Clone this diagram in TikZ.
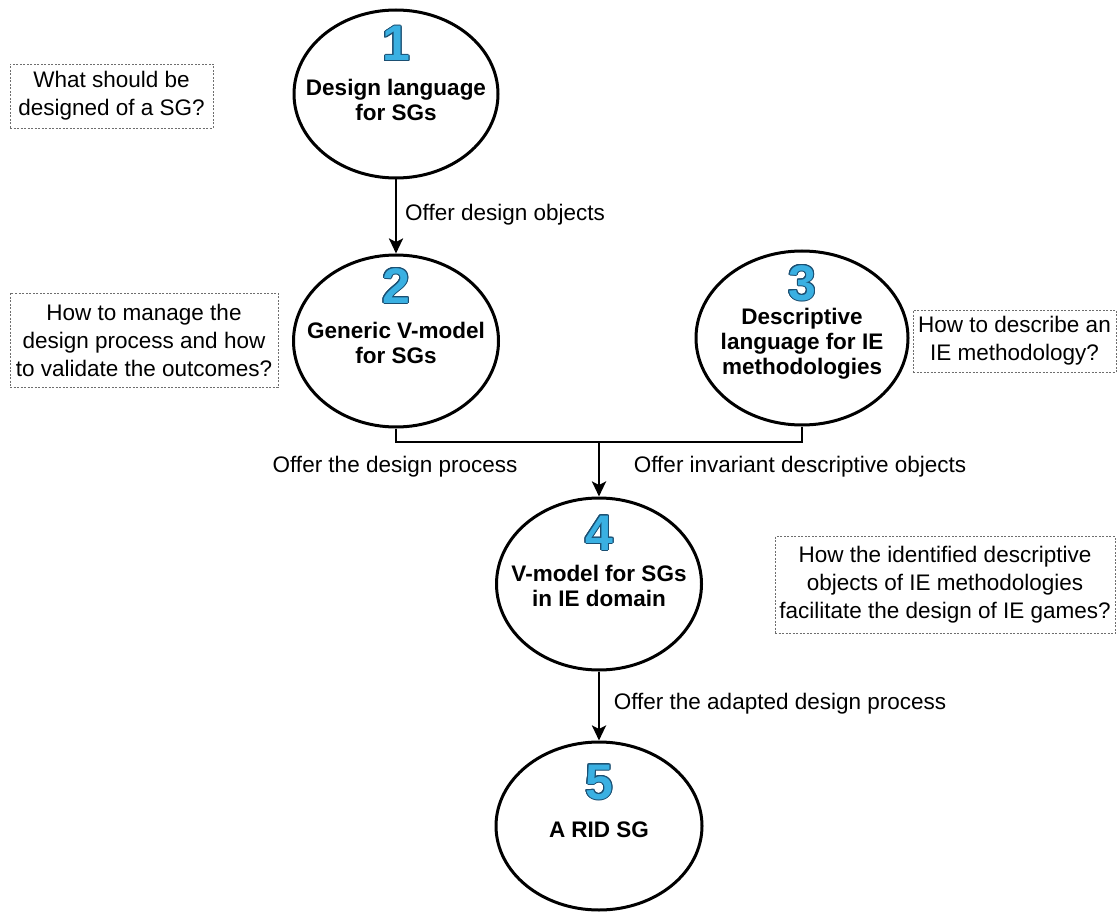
\documentclass[tikz,border=0pt]{standalone}
\usepackage{fontspec}
\setmainfont{Liberation Sans}
\usepackage{contour}
\contourlength{1pt}
\usetikzlibrary{shapes.geometric,arrows.meta}
\definecolor{digitblue}{HTML}{3AB0E2}
\definecolor{digitedge}{HTML}{1B4F72}
\definecolor{boxgray}{HTML}{6E6E6E}
\tikzset{
  bubble/.style={ellipse,draw=black,line width=3pt,fill=white,inner sep=0pt},
  numtxt/.style={font=\fontsize{50}{50}\selectfont\bfseries,inner sep=0pt,text height=36pt,text depth=0pt},
  bubtxt/.style={font=\fontsize{22.5}{25}\selectfont\bfseries,align=center,inner sep=0pt},
  qbox/.style={draw=boxgray,line width=0.9pt,dash pattern=on 2pt off 1.5pt,
    font=\fontsize{22.5}{28}\selectfont,align=center,inner sep=0pt},
  conn/.style={line width=2.7pt,draw=black},
  arr/.style={conn,-{Stealth[length=15pt,width=14pt,inset=3.5pt]}},
  lbl/.style={font=\fontsize{22.5}{25}\selectfont,inner sep=0pt},
}
\newcommand{\bignum}[1]{\contour{digitedge}{\textcolor{digitblue}{#1}}}
\begin{document}
\begin{tikzpicture}[x=1pt,y=-1pt]
\useasboundingbox (0,0) rectangle (1119,912);
% ellipses
\node[bubble,minimum width=204pt,minimum height=168pt] (e1) at (396,94) {};
\node[bubble,minimum width=205pt,minimum height=172pt] (e2) at (396,341) {};
\node[bubble,minimum width=212pt,minimum height=174pt] (e3) at (802,338) {};
\node[bubble,minimum width=205pt,minimum height=172pt] (e4) at (599,584) {};
\node[bubble,minimum width=206pt,minimum height=168pt] (e5) at (599,826) {};
% numbers
\node[numtxt] (n1) at (396,43) {\bignum{1}};
\node[numtxt] (n2) at (396,285) {\bignum{2}};
\node[numtxt] (n3) at (802,282) {\bignum{3}};
\node[numtxt] (n4) at (599,532) {\bignum{4}};
\node[numtxt] (n5) at (599,781) {\bignum{5}};
% ellipse texts
\node[bubtxt] (t1) at (396,100) {Design language\\for SGs};
\node[bubtxt] (t2) at (396,343) {Generic V-model\\for SGs};
\node[bubtxt] (t3) at (802,344) {Descriptive\\language for IE\\methodologies};
\node[bubtxt] (t4) at (599,586) {V-model for SGs\\in IE domain};
\node[bubtxt] (t5) at (599,830) {A RID SG};
% question boxes
\node[qbox,minimum width=203pt,minimum height=64pt] (q1) at (111.5,96) {What should be\\designed of a SG?};
\node[qbox,minimum width=268pt,minimum height=94pt] (q2) at (144,340) {How to manage the\\design process and how\\to validate the outcomes?};
\node[qbox,minimum width=203pt,minimum height=62pt] (q3) at (1014.5,341) {How to describe an\\IE methodology?};
\node[qbox,minimum width=340pt,minimum height=97pt] (q4) at (945,585) {How the identified descriptive\\objects of IE methodologies\\facilitate the design of IE games?};
% connectors
\coordinate (j) at (599,442);
\draw[arr] (e1.south) -- (e2.north);
\draw[conn] (e2.south) |- (j) -| (e3.south);
\draw[arr] (j) -- (e4.north);
\draw[arr] (e4.south) -- (e5.north);
% labels
\node[lbl,anchor=west] (l1) at (405,215) {Offer design objects};
\node[lbl] (l2) at (395,467) {Offer the design process};
\node[lbl] (l3) at (800,467) {Offer invariant descriptive objects};
\node[lbl] (l4) at (780,704) {Offer the adapted design process};
\end{tikzpicture}
\end{document}
